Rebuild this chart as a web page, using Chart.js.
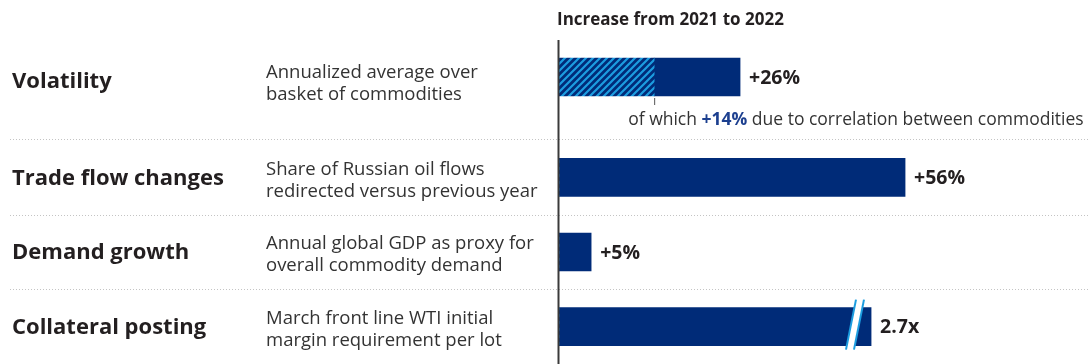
<!DOCTYPE html>
<html>
<head>
<meta charset="utf-8">
<script src="https://cdn.jsdelivr.net/npm/chart.js@4"></script>
<style>
  html, body { margin: 0; padding: 0; background: #fff; overflow: hidden; }
  #wrap { position: relative; width: 1088px; height: 364px; }
  canvas { position: absolute; left: 0; }
  #c1 { top: 0; }
  #c2 { top: 140px; }
</style>
</head>
<body>
<div id="wrap">
  <canvas id="c1" width="1088" height="140"></canvas>
  <canvas id="c2" width="1088" height="224"></canvas>
</div>
<script>
// ---- data ----
const categories = ['Volatility', 'Trade flow changes', 'Demand growth', 'Collateral posting'];
const descriptions = [
  ['Annualized average over', 'basket of commodities'],
  ['Share of Russian oil flows', 'redirected versus previous year'],
  ['Annual global GDP as proxy for', 'overall commodity demand'],
  ['March front line WTI initial', 'margin requirement per lot']
];
const valueLabels = ['+26%', '+56%', '+5%', '2.7x'];
// drawn bar lengths (illustrative, in %-units of the 56% bar)
const barLength = [29.3, 56, 5.2, 50.5];
const correlationPart = [15.4, 0, 0, 0];     // hatched "due to correlation" part
const brokenBar = [false, false, false, true];
const headerText = 'Increase from 2021 to 2022';
const noteParts = ['of which ', '+14%', ' due to correlation between commodities'];
const xMax = 85.6;

const NAVY = '#002b78';
const STRIPE = '#1c9de0';
const TEXT = '#231f20';
const SUB = '#333333';
const FONT = "'Open Sans', 'Noto Sans', sans-serif";

const decorCfg = {};

function makeHatch() {
  const n = 7;
  const c = document.createElement('canvas');
  c.width = n; c.height = n;
  const g = c.getContext('2d');
  g.fillStyle = NAVY; g.fillRect(0, 0, n, n);
  g.strokeStyle = STRIPE; g.lineWidth = 2.2;
  g.beginPath();
  g.moveTo(-1, n + 1); g.lineTo(n + 1, -1);
  g.moveTo(-2, 2); g.lineTo(2, -2);
  g.moveTo(n - 2, n + 2); g.lineTo(n + 2, n - 2);
  g.stroke();
  return g.createPattern(c, 'repeat');
}

const decor = {
  id: 'decor',
  afterDatasetsDraw(chart) {
    const o = decorCfg[chart.canvas.id];
    const rows = o.rows;
    const ctx = chart.ctx;
    const xs = chart.scales.x, ys = chart.scales.y;
    const H = chart.height;
    const x0 = xs.getPixelForValue(0);
    ctx.save();

    // dotted separators
    ctx.strokeStyle = '#c4c4c4';
    ctx.lineWidth = 1;
    ctx.setLineDash([1, 2]);
    o.separators(ys, rows).forEach(y => {
      ctx.beginPath(); ctx.moveTo(10, y); ctx.lineTo(1088, y); ctx.stroke();
    });
    ctx.setLineDash([]);

    // axis line
    ctx.strokeStyle = '#3a3a3a';
    ctx.lineWidth = 2;
    ctx.beginPath(); ctx.moveTo(x0 - 0.5, o.axisTop); ctx.lineTo(x0 - 0.5, H); ctx.stroke();

    // header
    if (o.header) {
      ctx.fillStyle = TEXT;
      ctx.font = 'bold 17px ' + FONT;
      ctx.textBaseline = 'middle';
      ctx.textAlign = 'left';
      ctx.fillText(headerText, 557, 20);
    }

    const metaTot = chart.getDatasetMeta(1);
    rows.forEach((r, j) => {
      const yc = ys.getPixelForValue(j) + o.textShift;
      // category name
      ctx.textAlign = 'left';
      ctx.textBaseline = 'middle';
      ctx.fillStyle = TEXT;
      ctx.font = 'bold 22px ' + FONT;
      ctx.fillText(categories[r], 12, yc + 1);
      // description
      ctx.fillStyle = SUB;
      ctx.font = '18.5px ' + FONT;
      ctx.fillText(descriptions[r][0], 266, yc - 8);
      ctx.fillText(descriptions[r][1], 266, yc + 14);

      const bar = metaTot.data[j];
      const xe = bar.x, yb = bar.y, hh = bar.height / 2;
      // break mark
      if (brokenBar[r]) {
        const cx = xe - 16.5, s = 0.2;
        const top = yb - hh - 8, bot = yb + hh + 4;
        const d = 4;
        const p = (y, off) => cx + off - (y - yb) * s;
        ctx.fillStyle = '#ffffff';
        ctx.beginPath();
        ctx.moveTo(p(top, -d), top); ctx.lineTo(p(top, d), top);
        ctx.lineTo(p(bot, d), bot); ctx.lineTo(p(bot, -d), bot);
        ctx.closePath(); ctx.fill();
        ctx.strokeStyle = STRIPE; ctx.lineWidth = 2;
        [-d, d].forEach(off => {
          ctx.beginPath(); ctx.moveTo(p(top, off), top); ctx.lineTo(p(bot, off), bot); ctx.stroke();
        });
      }
      // value label
      ctx.fillStyle = TEXT;
      ctx.font = 'bold 19.5px ' + FONT;
      ctx.textAlign = 'left';
      ctx.fillText(valueLabels[r], xe + 9, yb + 1);

      // correlation note
      if (correlationPart[r] > 0) {
        const xt = xs.getPixelForValue(correlationPart[r]);
        const ybot = yb + hh;
        ctx.strokeStyle = '#555';
        ctx.lineWidth = 1;
        ctx.beginPath(); ctx.moveTo(xt + 0.5, ybot + 2); ctx.lineTo(xt + 0.5, ybot + 9); ctx.stroke();
        let x = xt - 26;
        const yt = ybot + 24;
        noteParts.forEach((t, k) => {
          ctx.font = (k === 1 ? 'bold ' : '') + '17.5px ' + FONT;
          ctx.fillStyle = k === 1 ? '#1c3f8f' : SUB;
          ctx.fillText(t, x, yt);
          x += ctx.measureText(t).width;
        });
      }
    });
    ctx.restore();
  }
};

function build(canvasId, rows, padding, extra) {
  decorCfg[canvasId] = Object.assign({ rows }, extra);
  const hatch = makeHatch();
  return new Chart(document.getElementById(canvasId), {
    type: 'bar',
    data: {
      labels: rows.map(r => categories[r]),
      datasets: [
        { label: 'Due to correlation', data: rows.map(r => correlationPart[r]), backgroundColor: hatch, barThickness: 38 },
        { label: 'Increase', data: rows.map(r => barLength[r] - correlationPart[r]), backgroundColor: NAVY, barThickness: 38 }
      ]
    },
    options: {
      indexAxis: 'y',
      responsive: false,
      animation: false,
      layout: { padding },
      scales: {
        x: { stacked: true, display: false, min: 0, max: xMax },
        y: { stacked: true, display: false, offset: true }
      },
      plugins: {
        legend: { display: false },
        tooltip: { enabled: false }
      }
    },
    plugins: [decor]
  });
}

build('c1', [0], { left: 559, right: 0, top: 38, bottom: 24 }, {
  header: true,
  axisTop: 40,
  textShift: 4,
  separators: () => [139.5]
});

build('c2', [1, 2, 3], { left: 559, right: 0, top: 0, bottom: 0 }, {
  header: false,
  axisTop: 0,
  textShift: 0,
  separators: (ys, rows) => {
    const out = [];
    for (let j = 0; j < rows.length - 1; j++) {
      out.push(Math.round((ys.getPixelForValue(j) + ys.getPixelForValue(j + 1)) / 2) + 0.5);
    }
    return out;
  }
});
</script>
</body>
</html>
